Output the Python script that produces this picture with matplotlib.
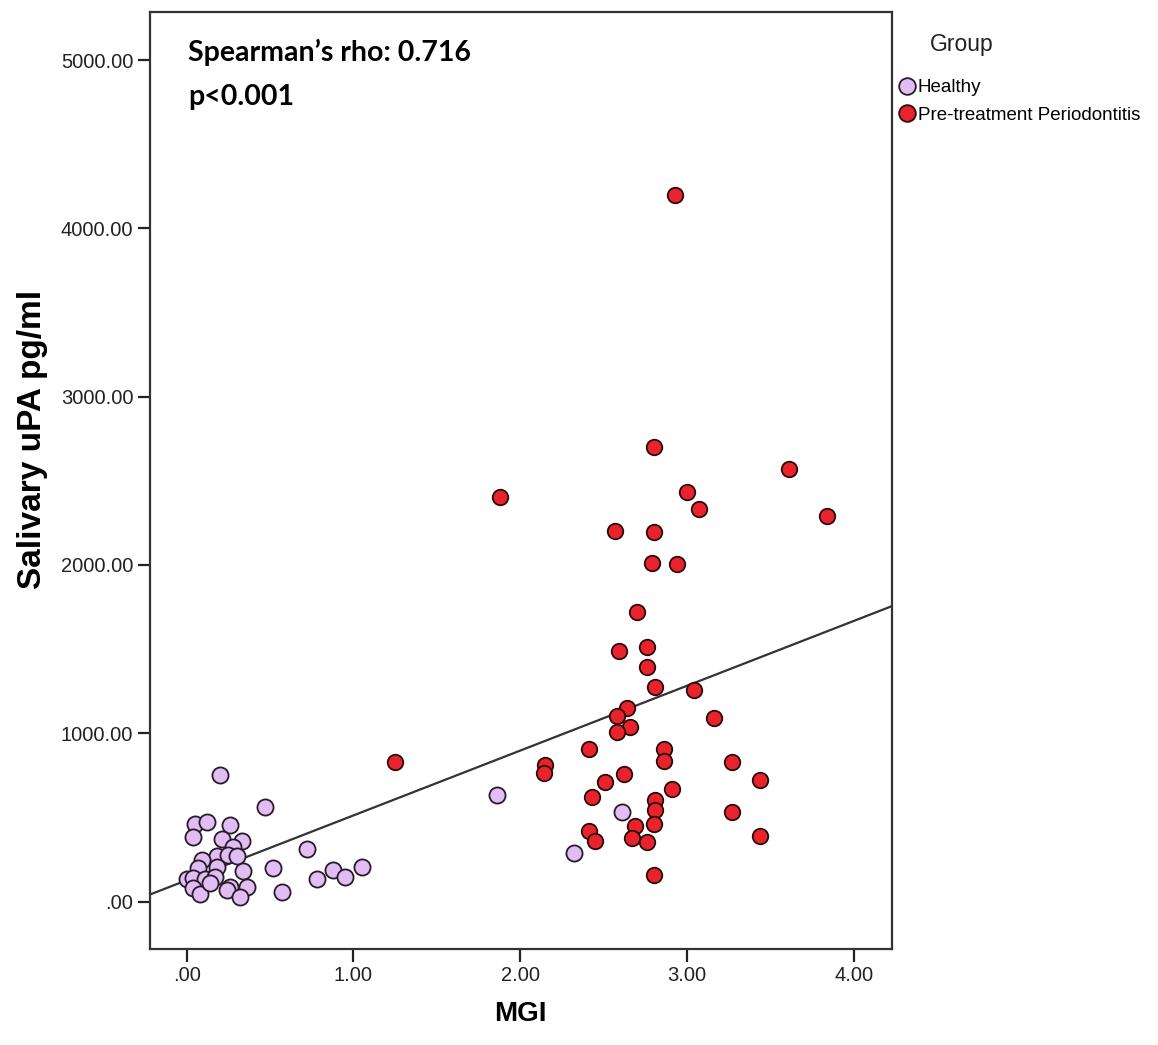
import numpy as np
import matplotlib
matplotlib.use("Agg")
import matplotlib.pyplot as plt
from matplotlib.lines import Line2D

# ---- data ----
healthy_mgi = [0.20, 0.47, 0.72, 0.52, 0.57, 0.78, 0.88, 0.95, 1.05, 1.86, 2.32, 2.61,
               0.05, 0.12, 0.04, 0.26, 0.21, 0.33, 0.28, 0.18, 0.25, 0.30, 0.09, 0.07,
               0.18, 0.34, 0.00, 0.04, 0.11, 0.17, 0.04, 0.08, 0.26, 0.24, 0.36, 0.32, 0.14]
healthy_upa = [752, 560, 312, 198, 55, 132, 188, 148, 207, 633, 287, 534,
               461, 471, 386, 455, 372, 362, 323, 273, 277, 273, 247, 198,
               204, 184, 132, 138, 134, 148, 79, 43, 89, 69, 85, 26, 109]

perio_mgi = [2.93, 2.80, 3.61, 3.00, 3.07, 2.80, 3.84, 2.79, 2.94, 1.88, 2.57, 2.70,
             2.59, 2.76, 2.76, 2.81, 3.04, 2.64, 2.58, 2.66, 2.58, 3.16, 2.41, 2.86,
             2.86, 3.27, 2.15, 2.14, 2.62, 2.51, 2.91, 2.43, 2.81, 2.81, 3.27, 2.80,
             2.69, 2.41, 2.45, 2.67, 2.76, 2.80, 3.44, 3.44, 1.25]
perio_upa = [4198, 2700, 2570, 2436, 2331, 2194, 2293, 2010, 2006, 2404, 2200, 1723,
             1491, 1511, 1396, 1273, 1257, 1152, 1105, 1039, 1010, 1093, 907, 907,
             837, 831, 812, 766, 758, 709, 669, 623, 604, 544, 531, 459,
             451, 419, 360, 380, 356, 158, 722, 389, 828]

x_ticks = [0, 1, 2, 3, 4]
x_tick_labels = [".00", "1.00", "2.00", "3.00", "4.00"]
y_ticks = [0, 1000, 2000, 3000, 4000, 5000]
y_tick_labels = [".00", "1000.00", "2000.00", "3000.00", "4000.00", "5000.00"]
group_labels = ["Healthy", "Pre-treatment Periodontitis"]
annotation_lines = ["Spearman\u2019s rho: 0.716", "p<0.001"]

# ---- figure ----
plt.rcParams['font.family'] = ['Liberation Sans', 'DejaVu Sans']
fig = plt.figure(figsize=(11.58, 10.45), dpi=100)
ax = fig.add_axes([150/1158, 1 - 949/1045, (891.7 - 150)/1158, (949 - 12)/1045])

xlim = (-0.22, 4.227)
ax.set_xlim(*xlim)
ax.set_ylim(-282, 5286)

c_h = '#E0BDF2'
c_p = '#E8232B'
ax.scatter(healthy_mgi, healthy_upa, s=135, c=c_h, edgecolors='#2a1a2a', linewidths=1.3, zorder=3)
ax.scatter(perio_mgi, perio_upa, s=125, c=c_p, edgecolors='#2a0a0a', linewidths=1.3, zorder=3)

# linear fit over all points
all_x = np.array(healthy_mgi + perio_mgi)
all_y = np.array(healthy_upa + perio_upa)
slope, intercept = np.polyfit(all_x, all_y, 1)
xx = np.array(xlim)
ax.plot(xx, intercept + slope * xx, color='#333333', lw=1.6, zorder=2)

ax.set_xticks(x_ticks)
ax.set_xticklabels(x_tick_labels)
ax.set_yticks(y_ticks)
ax.set_yticklabels(y_tick_labels)
ax.tick_params(direction='out', length=9, width=1.6, labelsize=14.5, colors='#222222', pad=3)
for sp in ax.spines.values():
    sp.set_linewidth(1.6)
    sp.set_color('#333333')

ax.set_xlabel("MGI", fontsize=20, fontweight='bold', labelpad=12)
ax.set_ylabel("Salivary uPA pg/ml", fontsize=24, fontweight='bold')
ax.yaxis.set_label_coords(-0.137, 0.544)

ax.text(188/1158, 1 - 52/1045, annotation_lines[0], transform=fig.transFigure,
        fontsize=20.5, fontweight='bold', family=['Lato', 'DejaVu Sans'], va='center', ha='left')
ax.text(188/1158, 1 - 97/1045, annotation_lines[1], transform=fig.transFigure,
        fontsize=20.5, fontweight='bold', family=['Lato', 'DejaVu Sans'], va='center', ha='left')

# legend
fig.text(930/1158, 1 - 44/1045, "Group", fontsize=16.5, va='center', ha='left', color='#222222')
handles = [Line2D([], [], marker='o', ls='', markersize=12, markerfacecolor=c_h,
                  markeredgecolor='#2a1a2a', markeredgewidth=1.3),
           Line2D([], [], marker='o', ls='', markersize=12, markerfacecolor=c_p,
                  markeredgecolor='#2a0a0a', markeredgewidth=1.3)]
fig.legend(handles, group_labels, loc='upper left', bbox_to_anchor=(898/1158, 1 - 79/1045),
           frameon=False, fontsize=13.5, handletextpad=0.05, labelspacing=0.55,
           handlelength=1.0, borderaxespad=0, borderpad=0)

fig.savefig("out.png", dpi=100, facecolor='white')
